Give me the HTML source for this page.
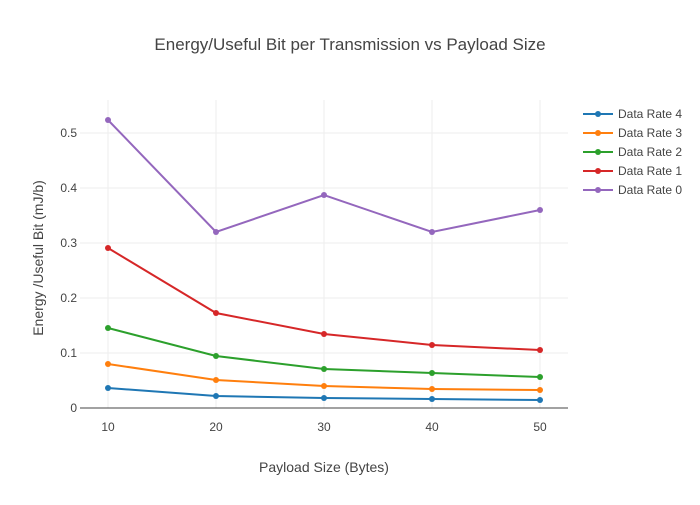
<!DOCTYPE html>
<html><head><style>
body{margin:0;background:#fff;}
text{font-family:"Liberation Sans",sans-serif;}
</style></head><body>
<svg width="700" height="500" xmlns="http://www.w3.org/2000/svg">
<rect width="700" height="500" fill="#fff"/>
<text x="350" y="50" text-anchor="middle" font-size="17" fill="#444">Energy/Useful Bit per Transmission vs Payload Size</text>
<g stroke="#eee" stroke-width="1">
<line x1="108" y1="100" x2="108" y2="408"/><line x1="216" y1="100" x2="216" y2="408"/><line x1="324" y1="100" x2="324" y2="408"/><line x1="432" y1="100" x2="432" y2="408"/><line x1="540" y1="100" x2="540" y2="408"/>
<line x1="80" y1="353" x2="568" y2="353"/><line x1="80" y1="298" x2="568" y2="298"/><line x1="80" y1="243" x2="568" y2="243"/><line x1="80" y1="188" x2="568" y2="188"/><line x1="80" y1="133" x2="568" y2="133"/>
</g>
<line x1="80" y1="408" x2="568" y2="408" stroke="#444" stroke-width="1"/>
<g font-size="12" fill="#444" text-anchor="end">
<text x="77" y="412">0</text><text x="77" y="357">0.1</text><text x="77" y="302">0.2</text><text x="77" y="247">0.3</text><text x="77" y="192">0.4</text><text x="77" y="137">0.5</text>
</g>
<g font-size="12" fill="#444" text-anchor="middle">
<text x="108" y="431">10</text><text x="216" y="431">20</text><text x="324" y="431">30</text><text x="432" y="431">40</text><text x="540" y="431">50</text>
</g>
<text x="324" y="472" text-anchor="middle" font-size="14" fill="#444">Payload Size (Bytes)</text>
<text transform="translate(43,258) rotate(-90)" text-anchor="middle" font-size="14" fill="#444">Energy /Useful Bit (mJ/b)</text>
<g fill="none" stroke-width="2">
<polyline stroke="#9467bd" points="108,120 216,232 324,195 432,232 540,210"/>
<polyline stroke="#d62728" points="108,248 216,313 324,334 432,345 540,350"/>
<polyline stroke="#2ca02c" points="108,328 216,356 324,369 432,373 540,377"/>
<polyline stroke="#ff7f0e" points="108,364 216,380 324,386 432,389 540,390"/>
<polyline stroke="#1f77b4" points="108,388 216,396 324,398 432,399 540,400"/>
</g>
<g fill="#9467bd"><circle cx="108" cy="120" r="3"/><circle cx="216" cy="232" r="3"/><circle cx="324" cy="195" r="3"/><circle cx="432" cy="232" r="3"/><circle cx="540" cy="210" r="3"/></g>
<g fill="#d62728"><circle cx="108" cy="248" r="3"/><circle cx="216" cy="313" r="3"/><circle cx="324" cy="334" r="3"/><circle cx="432" cy="345" r="3"/><circle cx="540" cy="350" r="3"/></g>
<g fill="#2ca02c"><circle cx="108" cy="328" r="3"/><circle cx="216" cy="356" r="3"/><circle cx="324" cy="369" r="3"/><circle cx="432" cy="373" r="3"/><circle cx="540" cy="377" r="3"/></g>
<g fill="#ff7f0e"><circle cx="108" cy="364" r="3"/><circle cx="216" cy="380" r="3"/><circle cx="324" cy="386" r="3"/><circle cx="432" cy="389" r="3"/><circle cx="540" cy="390" r="3"/></g>
<g fill="#1f77b4"><circle cx="108" cy="388" r="3"/><circle cx="216" cy="396" r="3"/><circle cx="324" cy="398" r="3"/><circle cx="432" cy="399" r="3"/><circle cx="540" cy="400" r="3"/></g>
<g font-size="12" fill="#444">
<line x1="583" y1="114" x2="613" y2="114" stroke="#1f77b4" stroke-width="2"/><circle cx="598" cy="114" r="3" fill="#1f77b4"/><text x="618" y="118">Data Rate 4</text>
<line x1="583" y1="133" x2="613" y2="133" stroke="#ff7f0e" stroke-width="2"/><circle cx="598" cy="133" r="3" fill="#ff7f0e"/><text x="618" y="137">Data Rate 3</text>
<line x1="583" y1="152" x2="613" y2="152" stroke="#2ca02c" stroke-width="2"/><circle cx="598" cy="152" r="3" fill="#2ca02c"/><text x="618" y="156">Data Rate 2</text>
<line x1="583" y1="171" x2="613" y2="171" stroke="#d62728" stroke-width="2"/><circle cx="598" cy="171" r="3" fill="#d62728"/><text x="618" y="175">Data Rate 1</text>
<line x1="583" y1="190" x2="613" y2="190" stroke="#9467bd" stroke-width="2"/><circle cx="598" cy="190" r="3" fill="#9467bd"/><text x="618" y="194">Data Rate 0</text>
</g>
</svg>
</body></html>
